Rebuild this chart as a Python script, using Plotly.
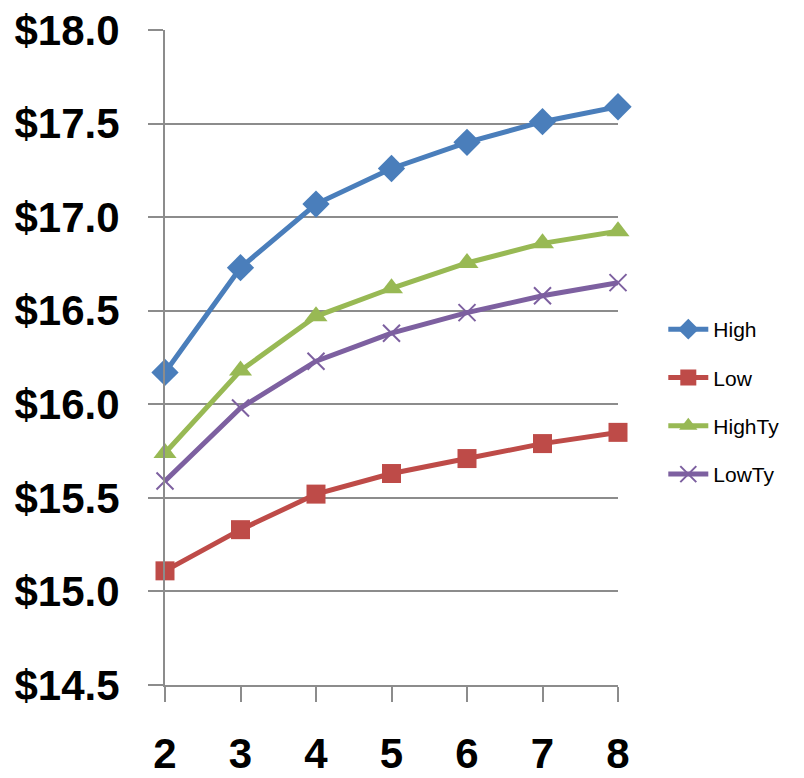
import plotly.graph_objects as go

x_vals = [2, 3, 4, 5, 6, 7, 8]
high = [16.17, 16.73, 17.07, 17.26, 17.40, 17.51, 17.59]
low = [15.11, 15.33, 15.52, 15.63, 15.71, 15.79, 15.85]
high_ty = [15.74, 16.18, 16.47, 16.62, 16.755, 16.86, 16.925]
low_ty = [15.59, 15.98, 16.23, 16.38, 16.49, 16.58, 16.65]
y_ticks = [14.5, 15.0, 15.5, 16.0, 16.5, 17.0, 17.5, 18.0]

series = [
    ("High", high, "#4A7EBB", dict(symbol="diamond", size=21)),
    ("Low", low, "#BE4B48", dict(symbol="square", size=19)),
    ("HighTy", high_ty, "#98B954", dict(symbol="triangle-up", size=20)),
    ("LowTy", low_ty, "#7D60A0", dict(symbol="x-thin", size=17, line=dict(width=2, color="#7D60A0"))),
]

fig = go.Figure()
for i, (name, ys, color, mk) in enumerate(series):
    marker = dict(color=color, **mk)
    fig.add_trace(go.Scatter(
        x=x_vals, y=ys, name=name, mode="lines+markers",
        line=dict(color=color, width=5),
        marker=marker, cliponaxis=False, legendgroup=name,
    ))

grid = "#8C8C8C"
fig.update_layout(
    width=804, height=778,
    margin=dict(l=165, r=186, t=30, b=93),
    paper_bgcolor="white", plot_bgcolor="white",
    font=dict(family="Liberation Sans, Arial, sans-serif", color="black"),
    xaxis=dict(
        range=[2, 8], tickvals=x_vals, showgrid=False, automargin=False,
        showline=True, linecolor=grid, linewidth=2,
        ticks="outside", ticklen=15, tickcolor=grid, tickwidth=2,
        tickfont=dict(size=42, family="Liberation Sans, Arial, sans-serif", weight="bold"),
        ticklabelstandoff=16, zeroline=False,
    ),
    yaxis=dict(
        range=[14.5, 18.0], tickvals=y_ticks, tickformat="$.1f", automargin=False,
        showgrid=True, gridcolor=grid, gridwidth=2,
        showline=True, linecolor=grid, linewidth=2,
        ticks="outside", ticklen=15, tickcolor=grid, tickwidth=2,
        tickfont=dict(size=42, family="Liberation Sans, Arial, sans-serif", weight="bold"),
        ticklabelstandoff=20, zeroline=False,
    ),
    legend=dict(
        x=1.1, xanchor="left", y=0.432, yanchor="middle",
        font=dict(size=21), tracegroupgap=18, traceorder="grouped",
        bgcolor="rgba(0,0,0,0)", itemwidth=40,
    ),
)

fig.write_html("out.html")
